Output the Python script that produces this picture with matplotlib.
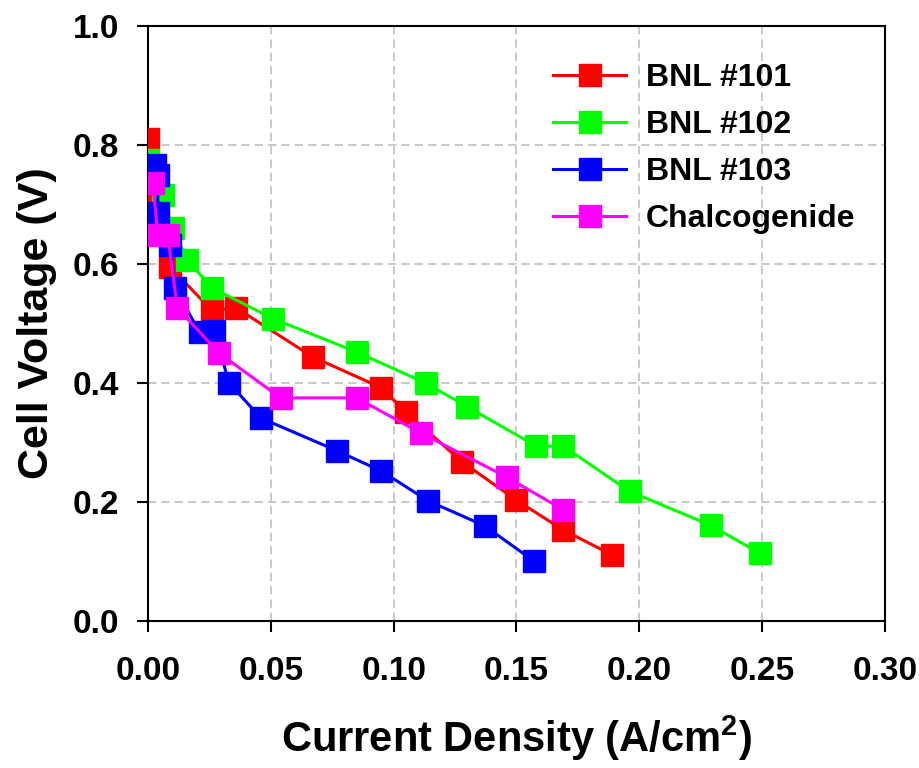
import matplotlib
matplotlib.use("Agg")
import matplotlib.pyplot as plt

plt.rcParams['font.family'] = ['Liberation Sans', 'DejaVu Sans']
plt.rcParams['font.weight'] = 'bold'
plt.rcParams['mathtext.fontset'] = 'custom'
plt.rcParams['mathtext.rm'] = 'Liberation Sans:bold'
plt.rcParams['mathtext.bf'] = 'Liberation Sans:bold'

# Data
bnl101_x = [0.000, 0.001, 0.009, 0.026, 0.036, 0.067, 0.095, 0.105, 0.128, 0.150, 0.169, 0.189]
bnl101_y = [0.810, 0.700, 0.595, 0.522, 0.526, 0.444, 0.392, 0.351, 0.267, 0.203, 0.153, 0.111]

bnl102_x = [0.000, 0.006, 0.010, 0.016, 0.026, 0.051, 0.085, 0.113, 0.130, 0.158, 0.169, 0.196, 0.229, 0.249]
bnl102_y = [0.775, 0.716, 0.660, 0.607, 0.560, 0.508, 0.452, 0.400, 0.360, 0.294, 0.294, 0.218, 0.161, 0.114]

bnl103_x = [0.003, 0.004, 0.004, 0.009, 0.011, 0.021, 0.027, 0.033, 0.046, 0.077, 0.095, 0.114, 0.137, 0.157]
bnl103_y = [0.766, 0.750, 0.686, 0.632, 0.560, 0.485, 0.487, 0.400, 0.341, 0.286, 0.252, 0.202, 0.160, 0.101]

chalc_x = [0.002, 0.004, 0.008, 0.012, 0.029, 0.054, 0.085, 0.111, 0.146, 0.169]
chalc_y = [0.736, 0.648, 0.648, 0.526, 0.450, 0.375, 0.375, 0.316, 0.242, 0.187]

series = [
    ("BNL #101", bnl101_x, bnl101_y, "#ff0000"),
    ("BNL #102", bnl102_x, bnl102_y, "#00ff00"),
    ("BNL #103", bnl103_x, bnl103_y, "#0000ff"),
    ("Chalcogenide", chalc_x, chalc_y, "#ff00ff"),
]

fig = plt.figure(figsize=(9.2, 7.68), dpi=100)
ax = fig.add_axes([148/920, 1-621/768, (885-148)/920, (621-26)/768])

for label, xs, ys, c in series:
    ax.plot(xs, ys, '-', color=c, lw=2.2, marker='s', ms=16, mec=c, mew=1,
            label=label, zorder=3)

ax.set_xlim(0, 0.30)
ax.set_ylim(0, 1.0)
ax.set_xticks([0.00, 0.05, 0.10, 0.15, 0.20, 0.25, 0.30])
ax.set_yticks([0.0, 0.2, 0.4, 0.6, 0.8, 1.0])
ax.set_xticklabels(["0.00", "0.05", "0.10", "0.15", "0.20", "0.25", "0.30"])
ax.set_yticklabels(["0.0", "0.2", "0.4", "0.6", "0.8", "1.0"])
ax.tick_params(axis='both', direction='out', length=8, width=1.5,
               labelsize=24, pad=13)
ax.tick_params(axis='x', pad=17)
for lbl in ax.get_xticklabels() + ax.get_yticklabels():
    lbl.set_fontweight('bold')

ax.grid(True, color='#c0c0c0', linestyle=(0, (5, 3)), linewidth=1.2, zorder=0)
ax.set_axisbelow(True)
for s in ax.spines.values():
    s.set_linewidth(1.5)

ax.set_xlabel("Current Density (A/cm$^2$)", fontsize=30, fontweight='bold', labelpad=19)
ax.set_ylabel("Cell Voltage (V)", fontsize=31, fontweight='bold', labelpad=11)

leg = ax.legend(loc='upper left', bbox_to_anchor=(0.5495, 0.938), frameon=False,
                fontsize=23, handlelength=2.3, handletextpad=0.6,
                labelspacing=0.53, borderaxespad=0.0, borderpad=0.0)
for t in leg.get_texts():
    t.set_fontweight('bold')

fig.savefig("out.png", dpi=100)
